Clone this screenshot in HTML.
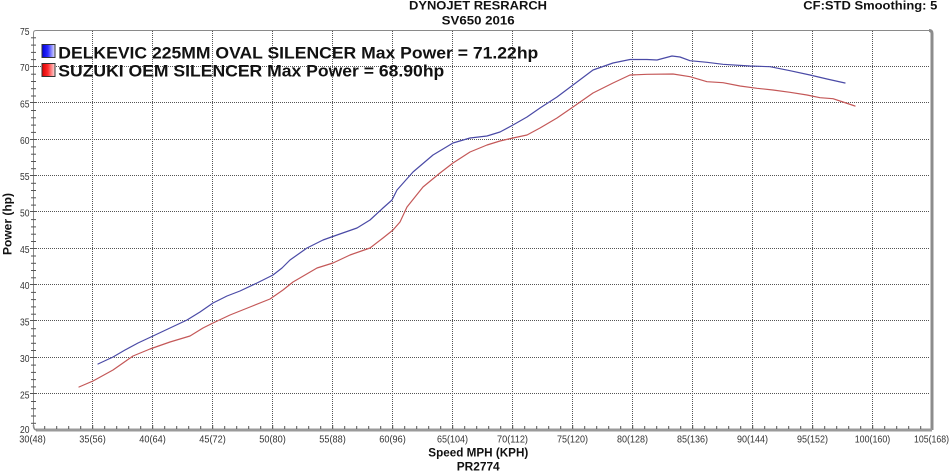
<!DOCTYPE html>
<html>
<head>
<meta charset="utf-8">
<style>
  html, body { margin: 0; padding: 0; background: #ffffff; }
  body { width: 950px; height: 472px; overflow: hidden; }
  svg { display: block; }
  text { font-family: "Liberation Sans", Arial, sans-serif; }
</style>
</head>
<body>
<svg width="950" height="472" viewBox="0 0 950 472" xmlns="http://www.w3.org/2000/svg">
  <defs>
    <linearGradient id="gb" x1="0" y1="0" x2="1" y2="0">
      <stop offset="0" stop-color="#0000d8"/>
      <stop offset="0.45" stop-color="#2a2aff"/>
      <stop offset="1" stop-color="#e4e4ff"/>
    </linearGradient>
    <linearGradient id="gr" x1="0" y1="0" x2="1" y2="0">
      <stop offset="0" stop-color="#d80000"/>
      <stop offset="0.45" stop-color="#ff2a2a"/>
      <stop offset="1" stop-color="#ffe0e0"/>
    </linearGradient>
  </defs>

  <rect x="0" y="0" width="950" height="472" fill="#ffffff"/>

  <!-- Header -->
  <text x="409" y="9.5" font-size="12" font-weight="bold" fill="#111" textLength="138" lengthAdjust="spacingAndGlyphs">DYNOJET RESRARCH</text>
  <text x="441.7" y="24.3" font-size="12" font-weight="bold" fill="#111" textLength="73" lengthAdjust="spacingAndGlyphs">SV650 2016</text>
  <text x="803.3" y="9.5" font-size="12" font-weight="bold" fill="#111" textLength="134" lengthAdjust="spacingAndGlyphs">CF:STD Smoothing: 5</text>

  <!-- Grid: horizontal -->
  <g stroke="#555" stroke-width="1" stroke-dasharray="1 1" fill="none">
    <line x1="34" y1="66.5" x2="930" y2="66.5"/>
    <line x1="34" y1="102.5" x2="930" y2="102.5"/>
    <line x1="34" y1="139.5" x2="930" y2="139.5"/>
    <line x1="34" y1="175.5" x2="930" y2="175.5"/>
    <line x1="34" y1="211.5" x2="930" y2="211.5"/>
    <line x1="34" y1="248.5" x2="930" y2="248.5"/>
    <line x1="34" y1="284.5" x2="930" y2="284.5"/>
    <line x1="34" y1="320.5" x2="930" y2="320.5"/>
    <line x1="34" y1="357.5" x2="930" y2="357.5"/>
    <line x1="34" y1="393.5" x2="930" y2="393.5"/>
  </g>
  <!-- Grid: vertical -->
  <g stroke="#555" stroke-width="1" stroke-dasharray="1 1" fill="none">
    <line x1="92.5" y1="31" x2="92.5" y2="428"/>
    <line x1="152.5" y1="31" x2="152.5" y2="428"/>
    <line x1="212.5" y1="31" x2="212.5" y2="428"/>
    <line x1="272.5" y1="31" x2="272.5" y2="428"/>
    <line x1="332.5" y1="31" x2="332.5" y2="428"/>
    <line x1="392.5" y1="31" x2="392.5" y2="428"/>
    <line x1="452.5" y1="31" x2="452.5" y2="428"/>
    <line x1="512.5" y1="31" x2="512.5" y2="428"/>
    <line x1="572.5" y1="31" x2="572.5" y2="428"/>
    <line x1="632.5" y1="31" x2="632.5" y2="428"/>
    <line x1="692.5" y1="31" x2="692.5" y2="428"/>
    <line x1="752.5" y1="31" x2="752.5" y2="428"/>
    <line x1="812.5" y1="31" x2="812.5" y2="428"/>
    <line x1="872.5" y1="31" x2="872.5" y2="428"/>
  </g>

  <!-- Frame -->
  <path d="M33.5 428 L33.5 33 Q33.5 30.5 36 30.5 L929 30.5" stroke="#8a8a8a" stroke-width="1" fill="none"/>
  <path d="M929 30.5 Q932 30.5 932 33.5 L932 430" stroke="#8c8c8c" stroke-width="3" fill="none"/>
  <path d="M36 430 L932 430" stroke="#9a9a9a" stroke-width="3" fill="none"/>
  <path d="M33.5 425 Q33.5 430 37 430" stroke="#8a8a8a" stroke-width="1.5" fill="none"/>

  <!-- Left axis minor ticks -->
  <g stroke="#555" stroke-width="1">
    <line x1="31" y1="37.8" x2="36" y2="37.8"/><line x1="31" y1="45.1" x2="36" y2="45.1"/><line x1="31" y1="52.4" x2="36" y2="52.4"/><line x1="31" y1="59.6" x2="36" y2="59.6"/>
    <line x1="30" y1="66.5" x2="36" y2="66.5"/>
    <line x1="31" y1="74.2" x2="36" y2="74.2"/><line x1="31" y1="81.5" x2="36" y2="81.5"/><line x1="31" y1="88.7" x2="36" y2="88.7"/><line x1="31" y1="96.0" x2="36" y2="96.0"/>
    <line x1="30" y1="102.5" x2="36" y2="102.5"/>
    <line x1="31" y1="110.5" x2="36" y2="110.5"/><line x1="31" y1="117.8" x2="36" y2="117.8"/><line x1="31" y1="125.1" x2="36" y2="125.1"/><line x1="31" y1="132.4" x2="36" y2="132.4"/>
    <line x1="30" y1="139.5" x2="36" y2="139.5"/>
    <line x1="31" y1="146.9" x2="36" y2="146.9"/><line x1="31" y1="154.2" x2="36" y2="154.2"/><line x1="31" y1="161.5" x2="36" y2="161.5"/><line x1="31" y1="168.7" x2="36" y2="168.7"/>
    <line x1="30" y1="175.5" x2="36" y2="175.5"/>
    <line x1="31" y1="183.3" x2="36" y2="183.3"/><line x1="31" y1="190.5" x2="36" y2="190.5"/><line x1="31" y1="197.8" x2="36" y2="197.8"/><line x1="31" y1="205.1" x2="36" y2="205.1"/>
    <line x1="30" y1="211.5" x2="36" y2="211.5"/>
    <line x1="31" y1="219.6" x2="36" y2="219.6"/><line x1="31" y1="226.9" x2="36" y2="226.9"/><line x1="31" y1="234.2" x2="36" y2="234.2"/><line x1="31" y1="241.5" x2="36" y2="241.5"/>
    <line x1="30" y1="248.5" x2="36" y2="248.5"/>
    <line x1="31" y1="256.0" x2="36" y2="256.0"/><line x1="31" y1="263.3" x2="36" y2="263.3"/><line x1="31" y1="270.5" x2="36" y2="270.5"/><line x1="31" y1="277.8" x2="36" y2="277.8"/>
    <line x1="30" y1="284.5" x2="36" y2="284.5"/>
    <line x1="31" y1="292.4" x2="36" y2="292.4"/><line x1="31" y1="299.6" x2="36" y2="299.6"/><line x1="31" y1="306.9" x2="36" y2="306.9"/><line x1="31" y1="314.2" x2="36" y2="314.2"/>
    <line x1="30" y1="320.5" x2="36" y2="320.5"/>
    <line x1="31" y1="328.7" x2="36" y2="328.7"/><line x1="31" y1="336.0" x2="36" y2="336.0"/><line x1="31" y1="343.3" x2="36" y2="343.3"/><line x1="31" y1="350.5" x2="36" y2="350.5"/>
    <line x1="30" y1="357.5" x2="36" y2="357.5"/>
    <line x1="31" y1="365.1" x2="36" y2="365.1"/><line x1="31" y1="372.4" x2="36" y2="372.4"/><line x1="31" y1="379.6" x2="36" y2="379.6"/><line x1="31" y1="386.9" x2="36" y2="386.9"/>
    <line x1="30" y1="393.5" x2="36" y2="393.5"/>
    <line x1="31" y1="401.5" x2="36" y2="401.5"/><line x1="31" y1="408.7" x2="36" y2="408.7"/><line x1="31" y1="416.0" x2="36" y2="416.0"/><line x1="31" y1="423.3" x2="36" y2="423.3"/>
  </g>

  <!-- Bottom axis minor ticks -->
  <g stroke="#555" stroke-width="1" id="bt">
    <line x1="44.7" y1="426" x2="44.7" y2="429"/><line x1="56.7" y1="426" x2="56.7" y2="429"/><line x1="68.7" y1="426" x2="68.7" y2="429"/><line x1="80.7" y1="426" x2="80.7" y2="429"/><line x1="92.7" y1="425" x2="92.7" y2="429"/>
    <line x1="104.7" y1="426" x2="104.7" y2="429"/><line x1="116.7" y1="426" x2="116.7" y2="429"/><line x1="128.7" y1="426" x2="128.7" y2="429"/><line x1="140.7" y1="426" x2="140.7" y2="429"/><line x1="152.7" y1="425" x2="152.7" y2="429"/>
    <line x1="164.7" y1="426" x2="164.7" y2="429"/><line x1="176.7" y1="426" x2="176.7" y2="429"/><line x1="188.7" y1="426" x2="188.7" y2="429"/><line x1="200.7" y1="426" x2="200.7" y2="429"/><line x1="212.7" y1="425" x2="212.7" y2="429"/>
    <line x1="224.7" y1="426" x2="224.7" y2="429"/><line x1="236.7" y1="426" x2="236.7" y2="429"/><line x1="248.7" y1="426" x2="248.7" y2="429"/><line x1="260.7" y1="426" x2="260.7" y2="429"/><line x1="272.7" y1="425" x2="272.7" y2="429"/>
    <line x1="284.7" y1="426" x2="284.7" y2="429"/><line x1="296.7" y1="426" x2="296.7" y2="429"/><line x1="308.7" y1="426" x2="308.7" y2="429"/><line x1="320.7" y1="426" x2="320.7" y2="429"/><line x1="332.7" y1="425" x2="332.7" y2="429"/>
    <line x1="344.7" y1="426" x2="344.7" y2="429"/><line x1="356.7" y1="426" x2="356.7" y2="429"/><line x1="368.7" y1="426" x2="368.7" y2="429"/><line x1="380.7" y1="426" x2="380.7" y2="429"/><line x1="392.7" y1="425" x2="392.7" y2="429"/>
    <line x1="404.7" y1="426" x2="404.7" y2="429"/><line x1="416.7" y1="426" x2="416.7" y2="429"/><line x1="428.7" y1="426" x2="428.7" y2="429"/><line x1="440.7" y1="426" x2="440.7" y2="429"/><line x1="452.7" y1="425" x2="452.7" y2="429"/>
    <line x1="464.7" y1="426" x2="464.7" y2="429"/><line x1="476.7" y1="426" x2="476.7" y2="429"/><line x1="488.7" y1="426" x2="488.7" y2="429"/><line x1="500.7" y1="426" x2="500.7" y2="429"/><line x1="512.7" y1="425" x2="512.7" y2="429"/>
    <line x1="524.7" y1="426" x2="524.7" y2="429"/><line x1="536.7" y1="426" x2="536.7" y2="429"/><line x1="548.7" y1="426" x2="548.7" y2="429"/><line x1="560.7" y1="426" x2="560.7" y2="429"/><line x1="572.7" y1="425" x2="572.7" y2="429"/>
    <line x1="584.7" y1="426" x2="584.7" y2="429"/><line x1="596.7" y1="426" x2="596.7" y2="429"/><line x1="608.7" y1="426" x2="608.7" y2="429"/><line x1="620.7" y1="426" x2="620.7" y2="429"/><line x1="632.7" y1="425" x2="632.7" y2="429"/>
    <line x1="644.7" y1="426" x2="644.7" y2="429"/><line x1="656.7" y1="426" x2="656.7" y2="429"/><line x1="668.7" y1="426" x2="668.7" y2="429"/><line x1="680.7" y1="426" x2="680.7" y2="429"/><line x1="692.7" y1="425" x2="692.7" y2="429"/>
    <line x1="704.7" y1="426" x2="704.7" y2="429"/><line x1="716.7" y1="426" x2="716.7" y2="429"/><line x1="728.7" y1="426" x2="728.7" y2="429"/><line x1="740.7" y1="426" x2="740.7" y2="429"/><line x1="752.7" y1="425" x2="752.7" y2="429"/>
    <line x1="764.7" y1="426" x2="764.7" y2="429"/><line x1="776.7" y1="426" x2="776.7" y2="429"/><line x1="788.7" y1="426" x2="788.7" y2="429"/><line x1="800.7" y1="426" x2="800.7" y2="429"/><line x1="812.7" y1="425" x2="812.7" y2="429"/>
    <line x1="824.7" y1="426" x2="824.7" y2="429"/><line x1="836.7" y1="426" x2="836.7" y2="429"/><line x1="848.7" y1="426" x2="848.7" y2="429"/><line x1="860.7" y1="426" x2="860.7" y2="429"/><line x1="872.7" y1="425" x2="872.7" y2="429"/>
    <line x1="884.7" y1="426" x2="884.7" y2="429"/><line x1="896.7" y1="426" x2="896.7" y2="429"/><line x1="908.7" y1="426" x2="908.7" y2="429"/><line x1="920.7" y1="426" x2="920.7" y2="429"/>
  </g>

  <!-- Y tick labels -->
  <g font-size="10" fill="#333" text-anchor="end">
    <text x="29.5" y="35" textLength="9.5" lengthAdjust="spacingAndGlyphs">75</text>
    <text x="29.5" y="71" textLength="9.5" lengthAdjust="spacingAndGlyphs">70</text>
    <text x="29.5" y="107.5" textLength="9.5" lengthAdjust="spacingAndGlyphs">65</text>
    <text x="29.5" y="144" textLength="9.5" lengthAdjust="spacingAndGlyphs">60</text>
    <text x="29.5" y="180" textLength="9.5" lengthAdjust="spacingAndGlyphs">55</text>
    <text x="29.5" y="216.5" textLength="9.5" lengthAdjust="spacingAndGlyphs">50</text>
    <text x="29.5" y="253" textLength="9.5" lengthAdjust="spacingAndGlyphs">45</text>
    <text x="29.5" y="289" textLength="9.5" lengthAdjust="spacingAndGlyphs">40</text>
    <text x="29.5" y="325.5" textLength="9.5" lengthAdjust="spacingAndGlyphs">35</text>
    <text x="29.5" y="362" textLength="9.5" lengthAdjust="spacingAndGlyphs">30</text>
    <text x="29.5" y="398.5" textLength="9.5" lengthAdjust="spacingAndGlyphs">25</text>
    <text x="29.5" y="433" textLength="9.5" lengthAdjust="spacingAndGlyphs">20</text>
  </g>

  <!-- X tick labels -->
  <g font-size="10.5" fill="#333" text-anchor="middle">
    <text x="32.5" y="442.5" textLength="26.5" lengthAdjust="spacingAndGlyphs">30(48)</text>
    <text x="92.5" y="442.5" textLength="26.5" lengthAdjust="spacingAndGlyphs">35(56)</text>
    <text x="152.5" y="442.5" textLength="26.5" lengthAdjust="spacingAndGlyphs">40(64)</text>
    <text x="212.5" y="442.5" textLength="26.5" lengthAdjust="spacingAndGlyphs">45(72)</text>
    <text x="272.5" y="442.5" textLength="26.5" lengthAdjust="spacingAndGlyphs">50(80)</text>
    <text x="332.5" y="442.5" textLength="26.5" lengthAdjust="spacingAndGlyphs">55(88)</text>
    <text x="392.5" y="442.5" textLength="26.5" lengthAdjust="spacingAndGlyphs">60(96)</text>
    <text x="452.5" y="442.5" textLength="31" lengthAdjust="spacingAndGlyphs">65(104)</text>
    <text x="512.5" y="442.5" textLength="31" lengthAdjust="spacingAndGlyphs">70(112)</text>
    <text x="572.5" y="442.5" textLength="31" lengthAdjust="spacingAndGlyphs">75(120)</text>
    <text x="632.5" y="442.5" textLength="31" lengthAdjust="spacingAndGlyphs">80(128)</text>
    <text x="692.5" y="442.5" textLength="31" lengthAdjust="spacingAndGlyphs">85(136)</text>
    <text x="752.5" y="442.5" textLength="31" lengthAdjust="spacingAndGlyphs">90(144)</text>
    <text x="812.5" y="442.5" textLength="31" lengthAdjust="spacingAndGlyphs">95(152)</text>
    <text x="872.5" y="442.5" textLength="35.5" lengthAdjust="spacingAndGlyphs">100(160)</text>
    <text x="931.5" y="442.5" textLength="35" lengthAdjust="spacingAndGlyphs">105(168)</text>
  </g>

  <!-- Axis titles -->
  <text x="428.3" y="456.7" font-size="12" font-weight="bold" fill="#111" textLength="100" lengthAdjust="spacingAndGlyphs">Speed MPH (KPH)</text>
  <text x="456.7" y="470.7" font-size="12" font-weight="bold" fill="#111" textLength="43" lengthAdjust="spacingAndGlyphs">PR2774</text>
  <text transform="translate(11.5,224) rotate(-90)" x="0" y="0" font-size="12" font-weight="bold" fill="#111" text-anchor="middle" textLength="62" lengthAdjust="spacingAndGlyphs">Power (hp)</text>

  <!-- Curves -->
  <polyline fill="none" stroke="#4a4aa6" stroke-width="1.2" stroke-linejoin="round" stroke-linecap="round"
    points="98,364 113,357 125,350 138,343 153,336 170,328 187,320 200,312 213,303 227,296 240,291 257,283 273,275 282,268 290,260 307,248 323,240 337,235 357,228 370,220 383,208 392,200 397,190 413,172 433,155 453,143 470,138 487,136 500,132 513,125 527,117 540,108 557,97 573,85 593,70 613,63 630,59.5 647,59.5 657,60 672,56 680,57 690,60.7 707,62.3 723,64.3 750,66 770,66.7 790,70.7 810,75 827,79 845,83"/>
  <polyline fill="none" stroke="#c45858" stroke-width="1.2" stroke-linejoin="round" stroke-linecap="round"
    points="79,387 93,381 113,370 133,356 150,349 170,342 190,336 203,328 213,323 230,315 250,307 270,299 283,290 293,282 317,268 333,263 350,255 370,248 383,238 393,230 400,222 407,207 423,187 440,173 453,163 470,152 487,145 500,141 513,138 527,135 540,128 557,118 573,107 593,93 613,83 630,75 647,74.3 673,74 690,76.7 707,81.7 723,82.7 740,86 757,88.3 773,90 790,92.3 807,95 820,97.7 833,98.7 843,102 855,106"/>

  <!-- Legend -->
  <rect x="42" y="44.5" width="13" height="13" fill="url(#gb)" stroke="#333" stroke-width="1"/>
  <rect x="42" y="63.5" width="13" height="13" fill="url(#gr)" stroke="#333" stroke-width="1"/>
  <text x="58.3" y="58.7" font-size="16.5" font-weight="bold" fill="#111" textLength="480" lengthAdjust="spacingAndGlyphs">DELKEVIC 225MM OVAL SILENCER Max Power = 71.22hp</text>
  <text x="58.3" y="76.7" font-size="16.5" font-weight="bold" fill="#111" textLength="386" lengthAdjust="spacingAndGlyphs">SUZUKI OEM SILENCER Max Power = 68.90hp</text>
</svg>
</body>
</html>
